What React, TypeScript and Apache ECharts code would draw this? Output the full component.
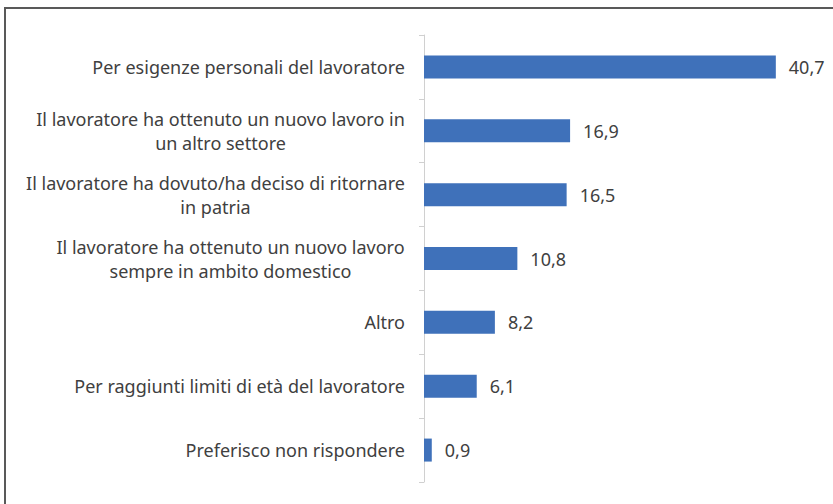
import React, { useEffect, useRef } from "react";
import * as echarts from "echarts";

const categories: string[] = [
  "Per esigenze personali del lavoratore",
  "Il lavoratore ha ottenuto un nuovo lavoro in\nun altro settore",
  "Il lavoratore ha dovuto/ha deciso di ritornare\nin patria",
  "Il lavoratore ha ottenuto un nuovo lavoro\nsempre in ambito domestico",
  "Altro",
  "Per raggiunti limiti di età del lavoratore",
  "Preferisco non rispondere",
];
const values: number[] = [40.7, 16.9, 16.5, 10.8, 8.2, 6.1, 0.9];

const FONT = "Noto Sans";
const FS = 18;

function measure(text: string): number {
  const c = document.createElement("canvas");
  const ctx = c.getContext("2d");
  if (!ctx) return text.length * 9;
  ctx.font = `${FS}px "${FONT}"`;
  return ctx.measureText(text).width;
}

export default function App() {
  const ref = useRef<HTMLDivElement>(null);
  useEffect(() => {
    document.body.style.margin = "0";
    if (!ref.current) return;
    const chart = echarts.init(ref.current, undefined, { renderer: "svg" });
    const widths: Record<string, number> = {};
    categories.forEach((c) => {
      const lines = c.split("\n");
      widths[c] = Math.ceil(Math.max(...lines.map(measure)));
    });
    const rich: Record<string, any> = {};
    categories.forEach((c, i) => {
      rich["l" + i] = {
        width: widths[c],
        align: "center",
        fontFamily: FONT,
        fontSize: FS,
        color: "#404040",
        lineHeight: 24,
      };
    });
    chart.setOption({
      animation: false,
      backgroundColor: "#ffffff",
      grid: { left: 424, right: 20, top: 35, bottom: 22 },
      xAxis: {
        type: "value",
        min: 0,
        max: 45,
        show: false,
      },
      yAxis: {
        type: "category",
        inverse: true,
        data: categories,
        axisLine: { show: true, lineStyle: { color: "#D0D0D0", width: 1 } },
        axisTick: { show: true, length: 5, lineStyle: { color: "#D0D0D0" } },
        axisLabel: {
          margin: 19,
          fontFamily: FONT,
          fontSize: FS,
          color: "#404040",
          lineHeight: 24,
          formatter: (v: string) => {
            const idx = categories.indexOf(v);
            if (v.indexOf("\n") < 0) return v;
            return v
              .split("\n")
              .map((ln) => `{l${idx}|${ln}}`)
              .join("\n");
          },
          rich,
        },
      },
      series: [
        {
          type: "bar",
          data: values,
          barWidth: 23,
          itemStyle: { color: "#3F71BA" },
          label: {
            show: true,
            position: "right",
            distance: 13,
            fontFamily: FONT,
            fontSize: FS,
            color: "#404040",
            formatter: (p: any) => String(p.value).replace(".", ","),
          },
        },
      ],
      graphic: [
        {
          type: "rect",
          shape: { x: 5, y: 8, width: 840, height: 520 },
          style: { fill: "none", stroke: "#595959", lineWidth: 2 },
          silent: true,
        },
      ],
    });
    return () => chart.dispose();
  }, []);
  return <div ref={ref} style={{ width: 833, height: 504 }} />;
}
